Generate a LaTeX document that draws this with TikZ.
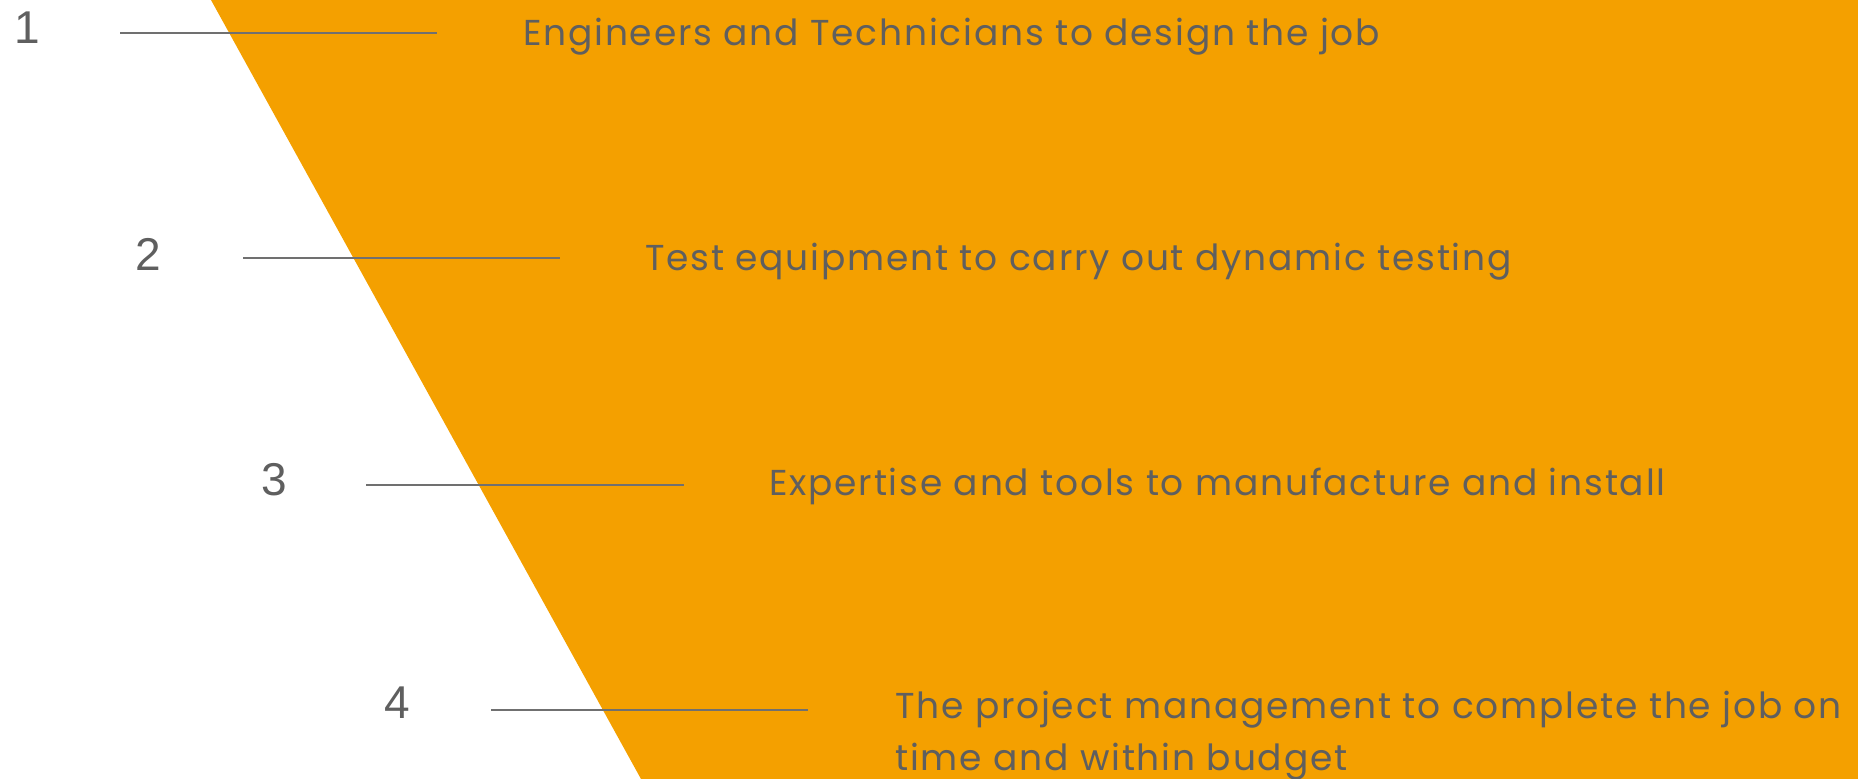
\documentclass[tikz,border=0pt]{standalone}
\usepackage{fontspec}
\setmainfont{Poppins}[LetterSpace=5]
\newfontfamily\numfont{Liberation Sans}
\definecolor{orangebg}{HTML}{F4A000}
\definecolor{txtgray}{HTML}{5F5F5F}
\definecolor{linegray}{HTML}{707070}
\begin{document}
\begin{tikzpicture}[x=1pt,y=-1pt,
  num/.style={anchor=base west,inner sep=0pt,text=txtgray,font=\numfont\fontsize{46}{52}\selectfont},
  lbl/.style={anchor=base west,inner sep=0pt,text=txtgray,font=\fontsize{36}{52}\selectfont,align=left},
  rule/.style={draw=linegray,line width=1.5pt}]
\useasboundingbox (0,0) rectangle (1858,779);
\fill[orangebg] (211,0) -- (1858,0) -- (1858,779) -- (641,779) -- cycle;
\node[num] (n1) at (14,43) {1};
\node[num] (n2) at (135,270) {2};
\node[num] (n3) at (261,495) {3};
\node[num] (n4) at (384,718) {4};
\coordinate (a1) at (120,33); \coordinate (b1) at (437,33);
\coordinate (a2) at (243,258); \coordinate (b2) at (560,258);
\coordinate (a3) at (366,485); \coordinate (b3) at (684,485);
\coordinate (a4) at (491,710); \coordinate (b4) at (808,710);
\draw[rule] (a1) -- (b1);
\draw[rule] (a2) -- (b2);
\draw[rule] (a3) -- (b3);
\draw[rule] (a4) -- (b4);
\node[lbl] (t1) at (523,45) {Engineers and Technicians to design the job};
\node[lbl] (t2) at (645,270) {Test equipment to carry out dynamic testing};
\node[lbl] (t3) at (769,495) {Expertise and tools to manufacture and install};
\node[lbl] (t4) at (895,718) {The project management to complete the job on};
\node[lbl] (t4b) at (895,770) {time and within budget};
\end{tikzpicture}
\end{document}
